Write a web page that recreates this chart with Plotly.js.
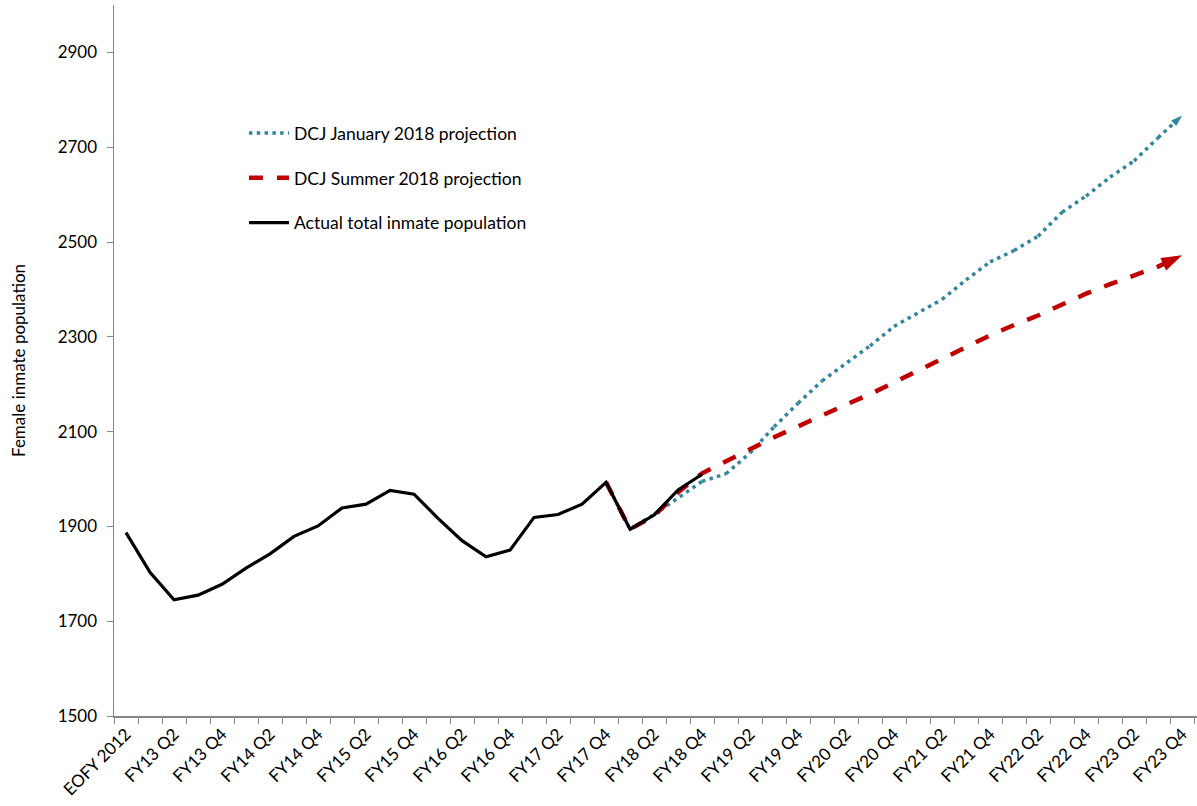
<!DOCTYPE html>
<html>
<head>
<meta charset="utf-8">
<script src="https://cdn.plot.ly/plotly-3.0.1.min.js"></script>
<style>html,body{margin:0;padding:0;background:#fff;}#chart{width:1197px;height:806px;}</style>
</head>
<body>
<div id="chart"></div>
<script>
// Categories: EOFY 2012, then FY13 Q1 ... FY23 Q4
const categories = ["EOFY 2012",
  "FY13 Q1","FY13 Q2","FY13 Q3","FY13 Q4",
  "FY14 Q1","FY14 Q2","FY14 Q3","FY14 Q4",
  "FY15 Q1","FY15 Q2","FY15 Q3","FY15 Q4",
  "FY16 Q1","FY16 Q2","FY16 Q3","FY16 Q4",
  "FY17 Q1","FY17 Q2","FY17 Q3","FY17 Q4",
  "FY18 Q1","FY18 Q2","FY18 Q3","FY18 Q4",
  "FY19 Q1","FY19 Q2","FY19 Q3","FY19 Q4",
  "FY20 Q1","FY20 Q2","FY20 Q3","FY20 Q4",
  "FY21 Q1","FY21 Q2","FY21 Q3","FY21 Q4",
  "FY22 Q1","FY22 Q2","FY22 Q3","FY22 Q4",
  "FY23 Q1","FY23 Q2","FY23 Q3","FY23 Q4"];

// Actual total inmate population (EOFY 2012 .. FY18 Q4)
const actualCats = categories.slice(0, 25);
const actualValues = [1887, 1803, 1745, 1755, 1778, 1812, 1842, 1879, 1901, 1939,
  1947, 1976, 1968, 1917, 1870, 1836, 1850, 1919, 1925, 1947,
  1993, 1894, 1924, 1977, 2010];

// DCJ January 2018 projection (FY17 Q4 .. FY23 Q4)
const janCats = categories.slice(20);
const janValues = [1993, 1894, 1925, 1960, 1995, 2011, 2055, 2110, 2160, 2207,
  2245, 2281, 2322, 2350, 2379, 2420, 2458, 2482, 2512, 2563,
  2597, 2637, 2671, 2720, 2767];

// DCJ Summer 2018 projection (FY17 Q4 .. FY23 Q4)
const sumCats = categories.slice(20);
const sumValues = [1993, 1894, 1922, 1972, 2012, 2038, 2062, 2088, 2111, 2135,
  2157, 2179, 2204, 2229, 2254, 2278, 2303, 2325, 2345, 2368,
  2391, 2411, 2429, 2448, 2472];

// Tick labels: every second category
const tickLabels = categories.map((c, i) => (i % 2 === 0 ? c : ""));

const yTicks = [1500, 1700, 1900, 2100, 2300, 2500, 2700, 2900];

const font = "Lato, 'Open Sans', sans-serif";
const teal = "#31859C";
const red = "#C00000";

function endSizes(n, s) { return Array.from({length: n}, (_, i) => (i === n - 1 ? s : 0)); }

const janLine = {color: teal, width: 3.5, dash: "3.5px,4.3px"};
const sumLine = {color: red, width: 4.5, dash: "14px,14px"};
const actLine = {color: "#000000", width: 3.2};

const traces = [
  {
    x: janCats, y: janValues, type: "scatter", mode: "lines+markers",
    name: "DCJ January 2018 projection", showlegend: false,
    line: janLine,
    marker: {symbol: "arrow", size: endSizes(janValues.length, 12), angleref: "previous", color: teal, opacity: 1, line: {width: 0}},
    hoverinfo: "x+y"
  },
  {
    x: sumCats, y: sumValues, type: "scatter", mode: "lines+markers",
    name: "DCJ Summer 2018 projection", showlegend: false,
    line: sumLine,
    marker: {symbol: "arrow", size: endSizes(sumValues.length, 22), angleref: "previous", color: red, opacity: 1, line: {width: 0}},
    hoverinfo: "x+y"
  },
  {
    x: actualCats, y: actualValues, type: "scatter", mode: "lines",
    name: "Actual total inmate population", showlegend: false,
    line: actLine,
    hoverinfo: "x+y"
  },
  // legend entries
  {x: [null], y: [null], type: "scatter", mode: "lines", name: "DCJ January 2018 projection", legendgroup: "a", line: janLine},
  {x: [null], y: [null], type: "scatter", mode: "lines", name: "DCJ Summer 2018 projection", legendgroup: "b", line: sumLine},
  {x: [null], y: [null], type: "scatter", mode: "lines", name: "Actual total inmate population", legendgroup: "c", line: actLine}
];

const layout = {
  width: 1197, height: 806,
  margin: {l: 114, r: 0, t: 5, b: 90},
  paper_bgcolor: "#ffffff", plot_bgcolor: "#ffffff",
  font: {family: font, size: 17, color: "#000000"},
  showlegend: true,
  legend: {
    x: 0.12, xanchor: "left", y: 0.845, yanchor: "top",
    bgcolor: "rgba(0,0,0,0)", font: {family: font, size: 17.5, color: "#000"},
    traceorder: "grouped", tracegroupgap: 19, itemwidth: 40
  },
  xaxis: {
    type: "category",
    categoryorder: "array", categoryarray: categories,
    range: [-0.5, 44.62],
    tickmode: "array", tickvals: categories, ticktext: tickLabels,
    tickson: "boundaries",
    tickangle: -45,
    ticks: "outside", ticklen: 6, tickcolor: "#868686", tickwidth: 1,
    showline: true, linecolor: "#868686", linewidth: 1.5,
    showgrid: false, zeroline: false,
    tickfont: {family: font, size: 17, color: "#000"},
    fixedrange: true
  },
  yaxis: {
    range: [1500, 3000],
    tickmode: "array", tickvals: yTicks,
    ticks: "outside", ticklen: 6, tickcolor: "#868686", tickwidth: 1,
    ticklabelstandoff: 6,
    showline: true, linecolor: "#868686", linewidth: 1.5,
    showgrid: false, zeroline: false,
    tickfont: {family: font, size: 17, color: "#000"},
    title: {text: "Female inmate population", font: {family: font, size: 17, color: "#000"}, standoff: 27},
    fixedrange: true
  }
};

Plotly.newPlot("chart", traces, layout, {displayModeBar: false, staticPlot: true});
</script>
</body>
</html>
